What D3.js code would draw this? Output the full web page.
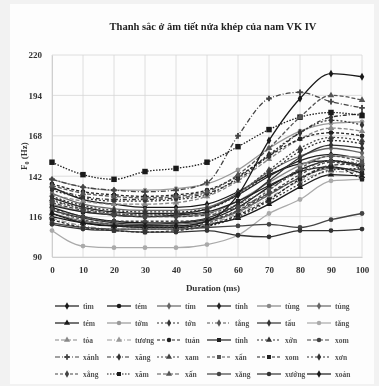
<!DOCTYPE html>
<html>
<head>
<meta charset="utf-8">
<script src="https://cdn.jsdelivr.net/npm/d3@7"></script>
<style>
  html,body{margin:0;padding:0;background:#f2f2f2;}
  svg{display:block;filter:blur(0.35px);}
  text{font-family:"Liberation Serif","DejaVu Serif",serif;font-weight:bold;}
</style>
</head>
<body>
<svg width="379" height="386"></svg>
<script>
// durées (ms) et graduations
const durees = [0,10,20,30,40,50,60,70,80,90,100];
const yTicks = [90,116,142,168,194,220];

// noms des syllabes (légende, 6 colonnes x 5 lignes)
const noms = [
  "tìm","tém","tím","tính","tùng","tủng",
  "tém","tởm","tớn","tẳng","tẩu","tằng",
  "tỏa","tương","tuản","tỉnh","xởn","xom",
  "xánh","xăng","xam","xẩn","xom","xơn",
  "xẳng","xăm","xấn","xằng","xướng","xoản"
];

// F0 (Hz), une série par syllabe
const f0 = [
  [135,127,124,122,122,124,132,143,150,152,148],
  [122,116,113,112,112,114,122,135,146,152,149],
  [118,113,111,110,111,113,119,130,141,147,146],
  [128,122,119,118,118,121,130,142,152,156,153],
  [124,119,117,116,116,118,126,138,149,155,154],
  [131,124,121,120,120,122,131,145,155,160,157],
  [116,112,110,109,109,111,115,124,135,143,142],
  [140,135,133,133,134,137,146,160,171,176,177],
  [133,128,126,126,127,130,141,156,170,178,175],
  [126,121,118,117,117,118,124,134,145,152,150],
  [120,115,112,111,112,115,124,139,154,162,160],
  [107,97,96,96,96,98,104,118,127,139,140],
  [130,126,124,124,125,129,139,153,166,173,171],
  [115,110,108,108,108,111,118,128,139,145,144],
  [137,132,130,129,130,133,142,155,166,170,168],
  [123,119,117,116,117,119,126,136,145,148,144],
  [118,112,110,109,109,110,116,126,137,146,147],
  [125,120,117,116,116,117,122,131,141,149,150],
  [140,135,133,132,133,138,168,192,196,190,186],
  [134,129,127,127,128,131,140,155,170,180,182],
  [127,121,118,117,118,121,131,146,160,167,165],
  [120,114,111,110,110,112,120,133,147,155,151],
  [114,109,107,106,107,110,117,127,140,148,140],
  [129,123,120,119,119,121,130,144,158,165,163],
  [121,116,113,113,113,114,120,131,143,151,147],
  [151,143,140,145,147,151,161,172,180,183,181],
  [136,131,129,128,129,132,143,160,180,194,191],
  [112,109,108,108,108,109,110,111,109,114,118],
  [111,108,107,106,106,107,104,103,107,107,108],
  [118,112,110,110,110,113,130,165,192,208,206]
];

// styles: couleur, pointillé, symbole
const couleurs = ["#1a1a1a","#1a1a1a","#666","#222","#888","#666",
                  "#1a1a1a","#999","#333","#555","#333","#aaa",
                  "#888","#999","#222","#222","#333","#444",
                  "#444","#333","#444","#555","#222","#333",
                  "#444","#1a1a1a","#555","#444","#333","#1a1a1a"];
const tirets = ["","","","","","",
                "","","2,2","3,2,1,2","","",
                "4,2","5,2,1,2","3,2","","2,2","4,2",
                "5,2,1,2","4,2,1,2","2,2","3,2","3,2","2,2",
                "3,2","1.5,1.5","4,2","","",""];
const symboles = ["diamond","circle","diamond","diamond","circle","diamond",
                  "triangle","circle","diamond","diamond","diamond","circle",
                  "triangle","triangle","circle","square","triangle","circle",
                  "cross","diamond","triangle","square","square","diamond",
                  "diamond","square","triangle","circle","circle","diamond"];

const svg = d3.select("svg");
svg.append("rect").attr("x",10).attr("y",4).attr("width",364).attr("height",380).attr("fill","#fdfdfd");

const x = d3.scaleLinear().domain([0,100]).range([52,362]);
const y = d3.scaleLinear().domain([90,220]).range([257,55]);

// titre
svg.append("text").attr("x",213).attr("y",30).attr("text-anchor","middle")
   .attr("font-size",10.5).attr("fill","#222")
   .text("Thanh sắc ở âm tiết nửa khép của nam VK IV");

// grille
svg.append("g").selectAll("line").data(durees).join("line")
   .attr("x1",d=>x(d)).attr("x2",d=>x(d)).attr("y1",y(220)).attr("y2",y(90))
   .attr("stroke","#d6d6d6").attr("stroke-width",0.8);
svg.append("g").selectAll("line").data(yTicks).join("line")
   .attr("x1",x(0)).attr("x2",x(100)).attr("y1",d=>y(d)).attr("y2",d=>y(d))
   .attr("stroke","#d6d6d6").attr("stroke-width",0.8);

// axes
const ax = svg.append("g").attr("transform",`translate(0,${y(90)})`)
   .call(d3.axisBottom(x).tickValues(durees).tickSize(0).tickPadding(10));
const ay = svg.append("g").attr("transform",`translate(${x(0)},0)`)
   .call(d3.axisLeft(y).tickValues(yTicks).tickSize(0).tickPadding(10));
[ax,ay].forEach(a=>{
  a.select(".domain").attr("stroke","#cfcfcf");
  a.selectAll("text").attr("font-size",9).attr("fill","#333")
   .attr("font-family","Liberation Serif, serif").attr("font-weight","bold");
});

svg.append("text").attr("x",213).attr("y",291).attr("text-anchor","middle")
   .attr("font-size",9).attr("fill","#333").text("Duration (ms)");
const yl = svg.append("text").attr("transform","translate(27,156) rotate(-90)")
   .attr("text-anchor","middle").attr("font-size",9).attr("fill","#333");
yl.append("tspan").text("F");
yl.append("tspan").attr("font-size",6).attr("dy",2).text("0");
yl.append("tspan").attr("dy",-2).text(" (Hz)");

// symboles
const forme = {diamond:d3.symbolDiamond,circle:d3.symbolCircle,square:d3.symbolSquare,
               triangle:d3.symbolTriangle,cross:d3.symbolCross};
function symbole(g,i,px,py,taille){
  g.append("path").attr("d",d3.symbol().type(forme[symboles[i]]).size(taille)())
   .attr("transform",`translate(${px},${py})`)
   .attr("fill",couleurs[i]).attr("stroke","none");
}

// courbes
const ligne = d3.line().x((d,j)=>x(durees[j])).y(d=>y(d)).curve(d3.curveMonotoneX);
const courbes = svg.append("g");
f0.forEach((serie,i)=>{
  courbes.append("path").attr("d",ligne(serie)).attr("fill","none")
    .attr("stroke",couleurs[i]).attr("stroke-width",1.3)
    .attr("stroke-dasharray",tirets[i]||null);
  serie.forEach((v,j)=>symbole(courbes,i,x(durees[j]),y(v),i==25?30:18));
});

// légende
const colX = [55,107,157,207,257,307];
const rowY = [306,323,340,357,374];
noms.forEach((nom,i)=>{
  const cx = colX[i%6], cy = rowY[Math.floor(i/6)];
  const g = svg.append("g");
  g.append("line").attr("x1",cx).attr("x2",cx+24).attr("y1",cy).attr("y2",cy)
   .attr("stroke",couleurs[i]).attr("stroke-width",1.2)
   .attr("stroke-dasharray",tirets[i]||null);
  symbole(g,i,cx+12,cy,16);
  g.append("text").attr("x",cx+28).attr("y",cy+3).attr("font-size",7.5)
   .attr("fill","#555").text(nom);
});
</script>
</body>
</html>
